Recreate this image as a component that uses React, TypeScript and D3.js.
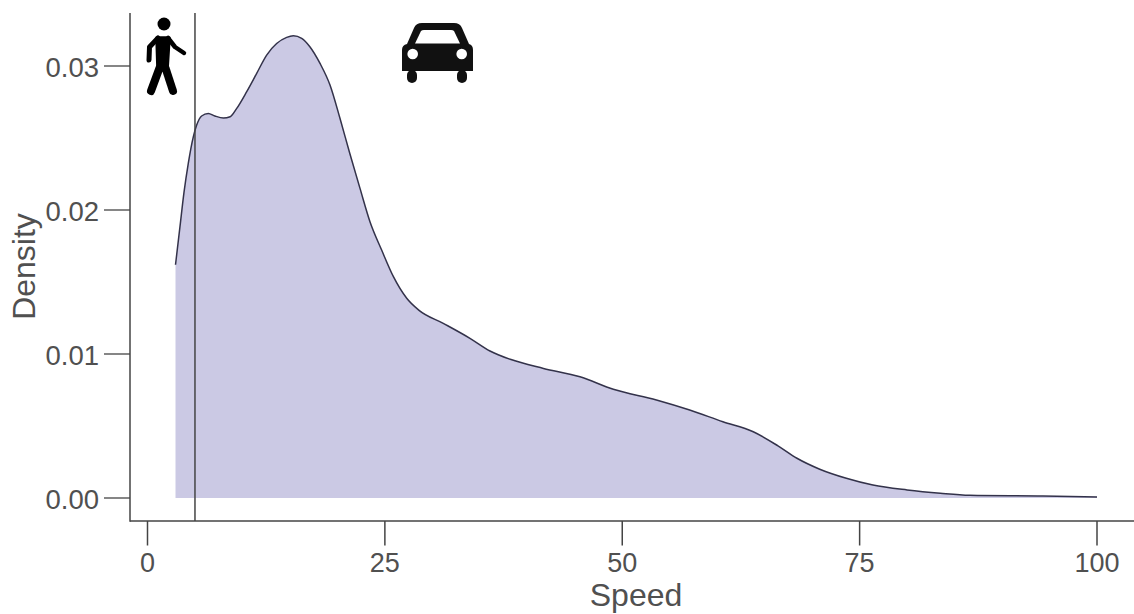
import React from "react";
import * as d3 from "d3";

const speeds = [2.95, 3.42, 3.84, 4.3, 4.83, 5.18, 5.7, 6.4, 7.1, 8, 8.7, 9.4, 10.45, 11.5, 12.55, 13.6, 14.66, 15.36, 16.24, 17.1, 18.17, 19.22, 20.27, 21.3, 22.38, 23.43, 24.66, 25.9, 27.3, 28.6, 31.15, 33.96, 36.07, 38.2, 41.7, 45.55, 49.06, 53.6, 57.1, 60.6, 63.8, 66.4, 68.4, 70.8, 73.6, 76.4, 80, 83.5, 86.6, 94.3, 100];
const density = [0.0162, 0.01884, 0.0212, 0.02326, 0.0251, 0.0259, 0.02653, 0.02671, 0.02653, 0.02639, 0.02648, 0.02706, 0.02822, 0.02949, 0.03076, 0.03156, 0.03199, 0.0321, 0.03192, 0.03134, 0.03018, 0.02868, 0.02637, 0.02394, 0.0215, 0.01919, 0.01722, 0.01537, 0.01387, 0.01303, 0.01213, 0.01109, 0.01021, 0.00963, 0.009, 0.00842, 0.00755, 0.00681, 0.00611, 0.0053, 0.0046, 0.00362, 0.00276, 0.002, 0.00137, 0.0009, 0.00056, 0.00033, 0.00019, 0.00014, 0.00007];
const xTicks = [0, 25, 50, 75, 100];
const yTicks = [0, 0.01, 0.02, 0.03];
const thresholdSpeed = 5;
const pts = speeds.map((s, i) => [s, density[i]] as [number, number]);

const x = d3.scaleLinear().domain([0, 100]).range([147.5, 1097]);
const y = d3.scaleLinear().domain([0, 0.03]).range([498, 66]);
const area = d3.area<[number, number]>().x(d => x(d[0])).y0(y(0)).y1(d => y(d[1])).curve(d3.curveMonotoneX);
const line = d3.line<[number, number]>().x(d => x(d[0])).y(d => y(d[1])).curve(d3.curveMonotoneX);

const ink = "#444444";
const label = "#505050";
const font = "'Liberation Sans', Arial, sans-serif";

export default function App() {
  return (
    <svg width={1134} height={614} style={{ position: "absolute", left: 0, top: 0, background: "#fff" }} fontFamily={font}>
      <path d={area(pts) ?? ""} fill="#cbc9e4" />
      <path d={line(pts) ?? ""} fill="none" stroke="#33324a" strokeWidth={1.5} />
      <line x1={x(thresholdSpeed)} x2={x(thresholdSpeed)} y1={13} y2={521} stroke={ink} strokeWidth={1.5} />
      <line x1={130} x2={130} y1={13} y2={521.7} stroke={ink} strokeWidth={1.5} />
      <line x1={130} x2={1134} y1={521} y2={521} stroke={ink} strokeWidth={1.5} />
      {xTicks.map(t => (
        <g key={t}>
          <line x1={x(t)} x2={x(t)} y1={521} y2={545.5} stroke={ink} strokeWidth={1.5} />
          <text x={x(t)} y={572} textAnchor="middle" fontSize={27} fill={label}>{t}</text>
        </g>
      ))}
      {yTicks.map(t => (
        <g key={t}>
          <line x1={104} x2={130} y1={y(t)} y2={y(t)} stroke={ink} strokeWidth={1.3} />
          <text x={99} y={y(t) + 10.5} textAnchor="end" fontSize={27.5} fill={label}>{t.toFixed(2)}</text>
        </g>
      ))}
      <text x={636} y={606} textAnchor="middle" fontSize={32} fill={label}>Speed</text>
      <text transform="translate(35,266.5) rotate(-90)" textAnchor="middle" fontSize={32} fill={label}>Density</text>

      {/* pedestrian */}
      <g fill="none" stroke="#000" strokeLinecap="round" strokeLinejoin="round">
        <circle cx={164} cy={24} r={6.5} fill="#000" stroke="none" />
        <path d="M157 38 L169 38 L167 70 L158 70 Z" fill="#000" stroke="#000" strokeWidth={3.5} />
        <path d="M158 38 L149.5 47 L149 60" strokeWidth={5} />
        <path d="M168 38 L175 47 L184 53" strokeWidth={4.5} />
        <path d="M159.5 68 L151 91" strokeWidth={8} />
        <path d="M165.5 68 L173 91" strokeWidth={8} />
      </g>

      {/* car */}
      <g>
        <path d="M402 50 Q402 45 407 44 L414 28 Q416 23 422 23 L454 23 Q460 23 462 28 L469 44 Q473 45 473 50 L473 71 L402 71 Z" fill="#111" />
        <path d="M415 43.5 L421 31 Q422 30 424 30 L451 30 Q453 30 454 31 L460 43.5 Z" fill="#fff" />
        <rect x={407} y={70} width={10} height={13} rx={5} fill="#111" />
        <rect x={457} y={70} width={10} height={13} rx={5} fill="#111" />
        <circle cx={412.7} cy={54} r={5.3} fill="#fff" />
        <circle cx={461.7} cy={54} r={5.3} fill="#fff" />
      </g>
    </svg>
  );
}
